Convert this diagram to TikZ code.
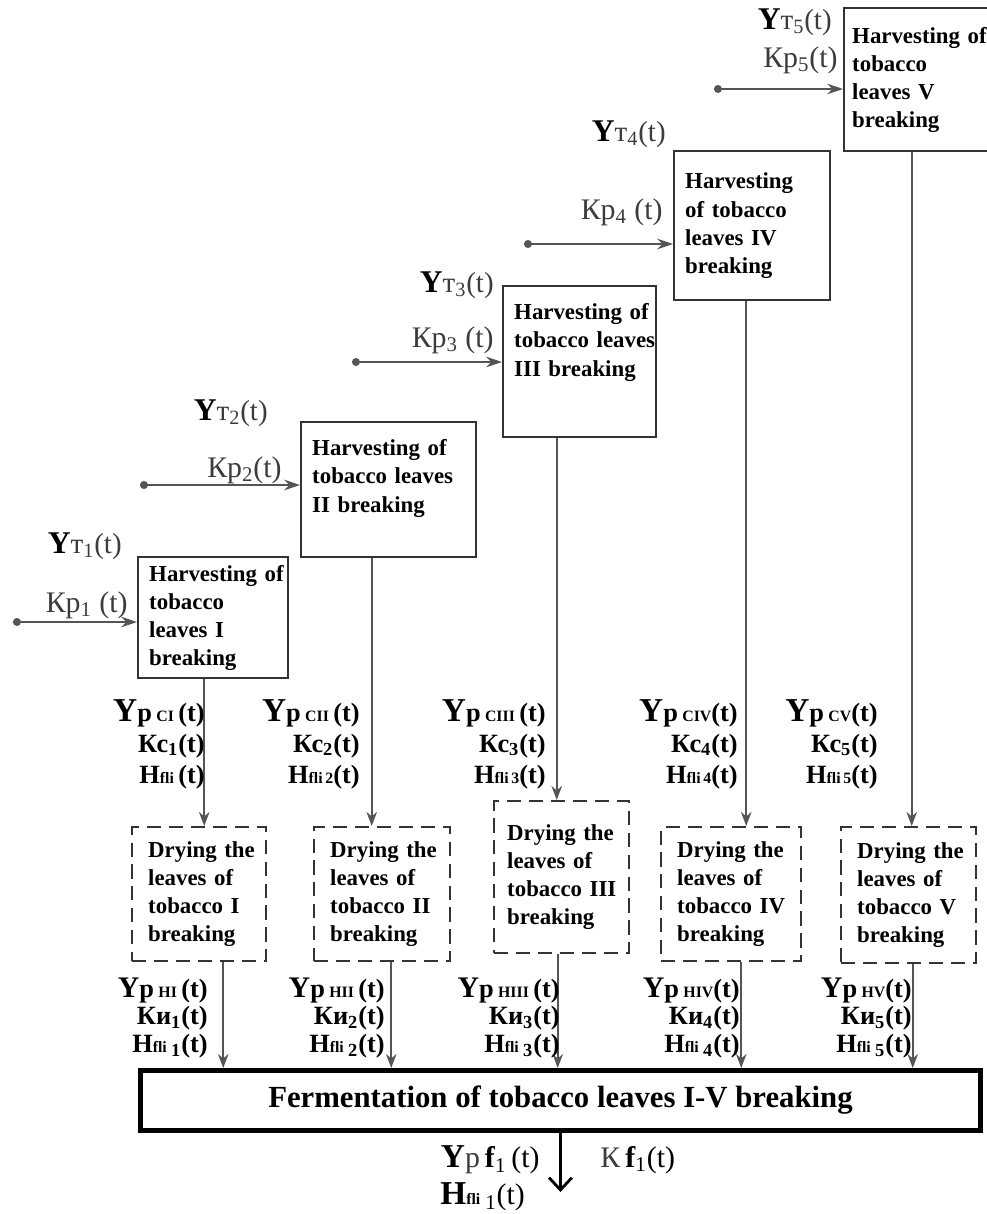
\documentclass[tikz,border=0pt]{standalone}
\usepackage{fontspec}
\setmainfont{Liberation Serif}
\usetikzlibrary{arrows.meta}
\definecolor{linegray}{RGB}{85,85,85}
\definecolor{labgray}{RGB}{60,60,60}
\newlength{\pxu}
\setlength{\pxu}{0.02cm}
\newcommand{\sm}[1]{{\fontsize{9}{9}\selectfont #1}}
\newcommand{\Ybig}{{\fontsize{19}{19}\selectfont Y}}
\newcommand{\Ymid}{{\fontsize{17}{17}\selectfont Y}}
\tikzset{
	harvest/.style={draw=black!80, line width=1.4pt, anchor=north west, align=left, inner xsep=11\pxu, font=\bfseries\fontsize{13}{16}\selectfont},
	drying/.style={harvest, inner xsep=16\pxu, dash pattern=on 8pt off 4.5pt},
	flow/.style={draw=linegray, line width=1.1pt, -{Stealth[length=8pt,width=6pt]}},
	feed/.style={flow, {Circle[length=4.5pt]}-{Stealth[length=9pt,width=6pt]}},
	inlbl/.style={anchor=east, inner sep=0pt, text=labgray, font=\fontsize{17}{17}\selectfont},
	outlbl/.style={anchor=east, inner sep=0pt, align=right, font=\bfseries\fontsize{15}{17.6}\selectfont},
}

\begin{document}
\begin{tikzpicture}[x=0.02cm, y=-0.02cm]
	\useasboundingbox (0,0) rectangle (987,1214);
	% harvesting stages
	\node[harvest, minimum height=121\pxu, text width=128\pxu] (h1) at (137,556) {Harvesting~of\\tobacco\\leaves~I\\breaking};
	\node[harvest, minimum height=135\pxu, text width=153\pxu] (h2) at (300,421) {Harvesting~of\\tobacco~leaves\\II~breaking\\[-5pt]\strut};
	\node[harvest, minimum height=151\pxu, text width=131\pxu] (h3) at (502,285) {Harvesting~of\\tobacco~leaves\\III~breaking\\[4pt]\strut};
	\node[harvest, minimum height=149\pxu, text width=134\pxu] (h4) at (673,150) {Harvesting\\of~tobacco\\leaves~IV\\breaking};
	\node[harvest, minimum height=143\pxu, inner xsep=8\pxu, text width=133\pxu] (h5) at (843,7) {Harvesting~of\\tobacco\\leaves~V\\breaking};
	% drying stages
	\node[drying, minimum height=134\pxu, text width=102\pxu] (d1) at (131,826) {Drying~the\\leaves~of\\tobacco~I\\breaking};
	\node[drying, minimum height=134\pxu, text width=104\pxu] (d2) at (313,826) {Drying~the\\leaves~of\\tobacco~II\\breaking};
	\node[drying, minimum height=152\pxu, text width=109\pxu, inner xsep=13\pxu] (d3) at (493,800) {Drying~the\\leaves~of\\tobacco~III\\breaking};
	\node[drying, minimum height=134\pxu, text width=108\pxu] (d4) at (660,826) {Drying~the\\leaves~of\\tobacco~IV\\breaking};
	\node[drying, minimum height=136\pxu, text width=103\pxu] (d5) at (840,826) {Drying~the\\leaves~of\\tobacco~V\\breaking};
	% fermentation
	\node[draw, line width=2.8pt, anchor=north west, minimum width=840\pxu, minimum height=60\pxu, font=\bfseries\fontsize{17.5}{20}\selectfont] (ferm) at (138,1068) {Fermentation of tobacco leaves I-V breaking};

	% inputs
	\foreach \i/\x/\y in {1/13/622, 2/140/485, 3/352/362, 4/524/244, 5/714/89}{
		\coordinate (in\i) at (\x,\y);
		\draw[feed] (in\i) -- (in\i -| h\i.west);
	}
	\node[inlbl, font=\fontsize{16.5}{16.5}\selectfont] (ut1) at (122,546) {{\color{black}\bfseries\fontsize{18}{18}\selectfont Y}т\textsubscript{1}(t)};
	\node[inlbl] (kp1) at (128,605) {Кр\textsubscript{1} (t)};
	\node[inlbl, font=\fontsize{16.5}{16.5}\selectfont] (ut2) at (268,413) {{\color{black}\bfseries\fontsize{18}{18}\selectfont Y}т\textsubscript{2}(t)};
	\node[inlbl] (kp2) at (282,470) {Кр\textsubscript{2}(t)};
	\node[inlbl, font=\fontsize{16.5}{16.5}\selectfont] (ut3) at (494,285) {{\color{black}\bfseries\fontsize{18}{18}\selectfont Y}т\textsubscript{3}(t)};
	\node[inlbl] (kp3) at (494,340) {Кр\textsubscript{3} (t)};
	\node[inlbl, font=\fontsize{16.5}{16.5}\selectfont] (ut4) at (666,134) {{\color{black}\bfseries\fontsize{18}{18}\selectfont Y}т\textsubscript{4}(t)};
	\node[inlbl] (kp4) at (663,212) {Кр\textsubscript{4} (t)};
	\node[inlbl, font=\fontsize{16.5}{16.5}\selectfont] (ut5) at (832,22) {{\color{black}\bfseries\fontsize{18}{18}\selectfont Y}т\textsubscript{5}(t)};
	\node[inlbl] (kp5) at (838,60) {Кр\textsubscript{5}(t)};

	% harvesting -> drying
	\foreach \i/\s in {1/-9, 2/-17, 3/-23, 4/-6, 5/-7}{
		\draw[flow] ([xshift=\s\pxu]h\i.south) -- ([xshift=\s\pxu]h\i.south |- d\i.north);
	}
	\node[outlbl] (c1) at (205,744) {\Ybig р\,\sm{CI}\,(t)\\Кс\textsubscript{1}(t)\\Н\sm{fli}\,(t)};
	\node[outlbl] (c2) at (360,744) {\Ybig р\,\sm{CII}\,(t)\\Кс\textsubscript{2}(t)\\Н\sm{fli\,2}(t)};
	\node[outlbl] (c3) at (546,744) {\Ybig р\,\sm{CIII}\,(t)\\Кс\textsubscript{3}(t)\\Н\sm{fli\,3}(t)};
	\node[outlbl] (c4) at (738,744) {\Ybig р\,\sm{CIV}(t)\\Кс\textsubscript{4}(t)\\Н\sm{fli\,4}(t)};
	\node[outlbl] (c5) at (878,744) {\Ybig р\,\sm{CV}(t)\\Кс\textsubscript{5}(t)\\Н\sm{fli\,5}(t)};

	% drying -> fermentation
	\foreach \i/\s in {1/24, 2/9, 3/-4, 4/10, 5/4}{
		\draw[flow] ([xshift=\s\pxu]d\i.south) -- ([xshift=\s\pxu]d\i.south |- ferm.north);
	}
	\node[outlbl, font=\bfseries\fontsize{15}{15.9}\selectfont] (n1) at (208,1018) {\Ymid р\,\sm{HI}\,(t)\\Ки\textsubscript{1}(t)\\Н\sm{fli}\,\textsubscript{1}(t)};
	\node[outlbl, font=\bfseries\fontsize{15}{15.9}\selectfont] (n2) at (385,1018) {\Ymid р\,\sm{HII}\,(t)\\Ки\textsubscript{2}(t)\\Н\sm{fli}\,\textsubscript{2}(t)};
	\node[outlbl, font=\bfseries\fontsize{15}{15.9}\selectfont] (n3) at (560,1018) {\Ymid р\,\sm{HIII}\,(t)\\Ки\textsubscript{3}(t)\\Н\sm{fli}\,\textsubscript{3}(t)};
	\node[outlbl, font=\bfseries\fontsize{15}{15.9}\selectfont] (n4) at (740,1018) {\Ymid р\,\sm{HIV}(t)\\Ки\textsubscript{4}(t)\\Н\sm{fli}\,\textsubscript{4}(t)};
	\node[outlbl, font=\bfseries\fontsize{15}{15.9}\selectfont] (n5) at (912,1018) {\Ymid р\,\sm{HV}(t)\\Ки\textsubscript{5}(t)\\Н\sm{fli}\,\textsubscript{5}(t)};

	% output
	\coordinate (out) at (557,1192);
	\draw[line width=1.6pt, -{Straight Barb[length=7pt,width=13pt]}] (ferm.south) -- (ferm.south |- out);
	\node[inlbl, text=black, font=\fontsize{17}{17}\selectfont] (urf) at (540,1160) {{\bfseries\fontsize{19}{19}\selectfont Y}{\color{labgray}р}\,\textbf{f}\textsubscript{1}\,(t)};
	\node[inlbl, anchor=west, text=black, font=\fontsize{17}{17}\selectfont] (kf) at (600,1160) {{\color{labgray}К}\,\textbf{f}\textsubscript{1}(t)};
	\node[inlbl, anchor=west, text=black, font=\fontsize{17}{17}\selectfont] (hf) at (440,1197) {{\bfseries\fontsize{19}{19}\selectfont Н}\textbf{\sm{fli}}\,\textsubscript{1}(t)};
\end{tikzpicture}
\end{document}
